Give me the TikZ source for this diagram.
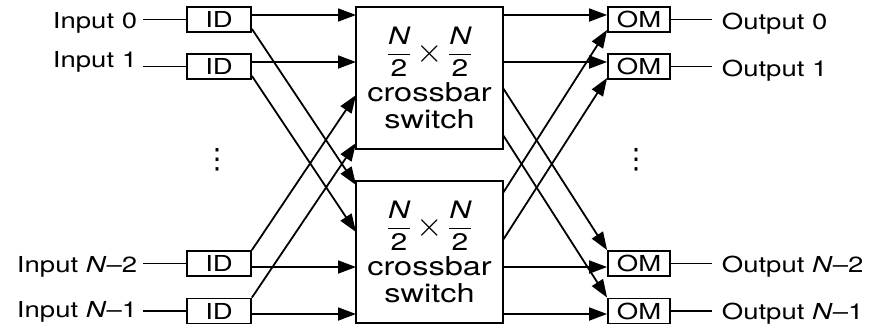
\RequirePackage{fix-cm}
\documentclass[tikz,border=0pt]{standalone}
\usepackage{amsmath}
\usepackage{fontspec}
\setmainfont{TeX Gyre Heros}[FakeStretch=1.25]
\newfontfamily\symfont{DejaVu Sans}
\usetikzlibrary{arrows.meta}

\newcommand{\halfN}{\genfrac{}{}{1.5pt}{0}{\text{\itshape N}}{\text{2}}}
\newcommand{\bigtimes}{\mathbin{\vcenter{\hbox{\fontsize{34}{34}\selectfont$\times$}}}}

\begin{document}
\begin{tikzpicture}[x=1pt, y=-1pt, line width=1.8pt,
  >={Triangle[length=18pt,width=13pt]},
  idbox/.style={rectangle, draw, minimum width=64pt, minimum height=25pt,
                inner sep=0pt, font=\fontsize{22}{24}\selectfont},
  ombox/.style={idbox, minimum width=62pt},
  xbox/.style={rectangle, draw, minimum width=147pt, minimum height=142pt,
               inner sep=0pt, align=center, font=\fontsize{26}{27}\selectfont},
  lbl/.style={inner sep=0pt, font=\fontsize{22}{24}\selectfont},
  dots/.style={inner sep=0pt, font=\symfont\fontsize{28}{28}\selectfont}]
  \useasboundingbox (0,0) rectangle (873,325);
  % inputs and demultiplexers
  \node[lbl, anchor=east] (in0) at (138,23.3) {Input 0};
  \node[lbl, anchor=east] (in1) at (138,62.3) {Input 1};
  \node[lbl, anchor=east] (in2) at (138,266.8) {Input \textit{N}--2};
  \node[lbl, anchor=east] (in3) at (138,311.8) {Input \textit{N}--1};
  \node[idbox] (id0) at (219,19.5) {ID};
  \node[idbox] (id1) at (219,66.5) {ID};
  \node[idbox] (id2) at (219,263.5) {ID};
  \node[idbox] (id3) at (219,311) {ID};
  \node[dots] (vdl) at (217,160) {⋮};
  % the two half-size crossbars
  \node[xbox] (xbA) at (429.5,78)
    {{\fontsize{24}{24}\selectfont$\halfN\bigtimes\halfN$}\\[5pt]crossbar\\switch};
  \node[xbox] (xbB) at (429.5,252)
    {{\fontsize{24}{24}\selectfont$\halfN\bigtimes\halfN$}\\[5pt]crossbar\\switch};
  \coordinate (la0) at (356,15);
  \coordinate (la1) at (356,62);
  \coordinate (la2) at (356,95);
  \coordinate (la3) at (356,143);
  \coordinate (lb0) at (356,185);
  \coordinate (lb1) at (356,232);
  \coordinate (lb2) at (356,267);
  \coordinate (lb3) at (356,314);
  \coordinate (ra0) at (503,15);
  \coordinate (ra1) at (503,62);
  \coordinate (ra2) at (503,88);
  \coordinate (ra3) at (503,135);
  \coordinate (rb0) at (503,193);
  \coordinate (rb1) at (503,240);
  \coordinate (rb2) at (503,267);
  \coordinate (rb3) at (503,314);
  % output multiplexers and outputs
  \node[ombox] (om0) at (639,19.5) {OM};
  \node[ombox] (om1) at (639,66.5) {OM};
  \node[ombox] (om2) at (639,263.5) {OM};
  \node[ombox] (om3) at (639,311) {OM};
  \node[dots] (vdr) at (636,160) {⋮};
  \node[lbl, anchor=west] (out0) at (721,23.8) {Output 0};
  \node[lbl, anchor=west] (out1) at (721,70.3) {Output 1};
  \node[lbl, anchor=west] (out2) at (721,266.3) {Output \textit{N}--2};
  \node[lbl, anchor=west] (out3) at (721,313.3) {Output \textit{N}--1};
  \draw ([xshift=5pt]in0.east |- id0) -- (id0.west);
  \draw ([xshift=5pt]in1.east |- id1) -- (id1.west);
  \draw ([xshift=5pt]in2.east |- id2) -- (id2.west);
  \draw ([xshift=5pt]in3.east |- id3) -- (id3.west);
  \draw[->] (id0.east |- la0) -- (la0);
  \draw[->] (id1.east |- la1) -- (la1);
  \draw[->] (id2.east |- lb2) -- (lb2);
  \draw[->] (id3.east |- lb3) -- (lb3);
  \draw[->] ([yshift=4pt]id0.south east) -- (lb0);
  \draw[->] ([yshift=4pt]id1.south east) -- (lb1);
  \draw[->] (id2.north east) -- (la2);
  \draw[->] (id3.north east) -- (la3);
  \draw[->] (ra0) -- (ra0 -| om0.west);
  \draw[->] (ra1) -- (ra1 -| om1.west);
  \draw[->] (rb2) -- (rb2 -| om2.west);
  \draw[->] (rb3) -- (rb3 -| om3.west);
  \draw[->] (rb0) -- ([yshift=3pt]om0.south west);
  \draw[->] (rb1) -- ([yshift=2pt]om1.south west);
  \draw[->] (ra2) -- (om2.north west);
  \draw[->] (ra3) -- (om3.north west);
  \draw (om0.east) -- ([xshift=-9pt]out0.west |- om0);
  \draw (om1.east) -- ([xshift=-9pt]out1.west |- om1);
  \draw (om2.east) -- ([xshift=-9pt]out2.west |- om2);
  \draw (om3.east) -- ([xshift=-9pt]out3.west |- om3);
\end{tikzpicture}
\end{document}
